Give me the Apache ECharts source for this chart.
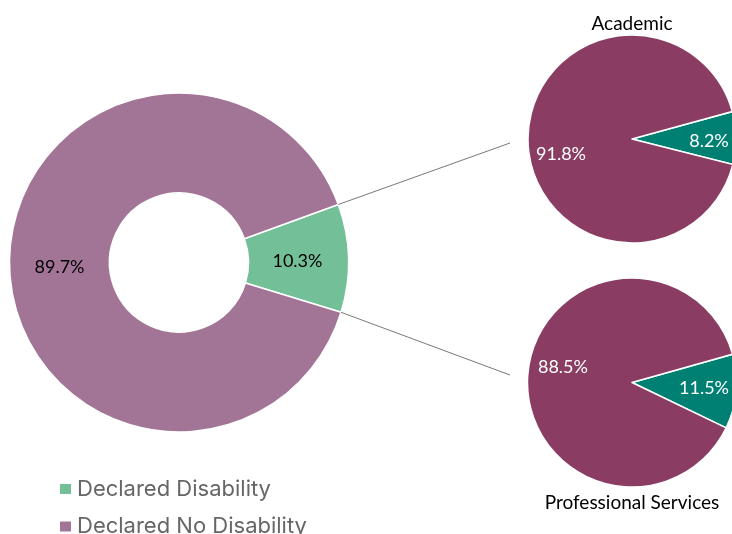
<!DOCTYPE html>
<html><head><meta charset="utf-8">
<script src="https://cdn.jsdelivr.net/npm/echarts@6/dist/echarts.min.js"></script>
<style>html,body{margin:0;padding:0;background:#fff}#c{width:732px;height:534px}</style>
</head><body><div id="c"></div>
<script>
var categories = ['Declared Disability', 'Declared No Disability'];
var overallValues = [10.3, 89.7];
var academicValues = [8.2, 91.8];
var profServValues = [11.5, 88.5];
var subTitles = ['Academic', 'Professional Services'];

var chart = echarts.init(document.getElementById('c'));
var font = 'Lato, Calibri, Carlito, sans-serif';
var donutC = [179, 262.5], donutR = 169.5;
var startMain = 20;
function pt(c, r, deg) { var a = deg * Math.PI / 180; return [c[0] + r * Math.cos(a), c[1] - r * Math.sin(a)]; }
var endMain = startMain - overallValues[0] / 100 * 360;
var p1 = pt(donutC, donutR, startMain), p2 = pt(donutC, donutR, endMain);

function mk(vals, colors, labelColors, offsets) {
  return vals.map(function (v, i) {
    return { name: categories[i], value: v,
      itemStyle: { color: colors[i] },
      label: { color: labelColors[i], offset: offsets[i] } };
  });
}
var commonLabel = { show: true, position: 'inside', fontFamily: font, fontSize: 18,
  formatter: function (p) { return p.value.toFixed(1) + '%'; } };
var legendText = { fontFamily: 'Inter, sans-serif', fontSize: 22, color: '#666', lineHeight: 24 };

chart.setOption({
  animation: false,
  color: ['#72BF98', '#A27597'],
  title: [
    { text: subTitles[0], left: 627, top: 9, textAlign: 'center',
      textStyle: { fontFamily: font, fontSize: 19, fontWeight: 'normal', color: '#000' } },
    { text: subTitles[1], left: 627, top: 488, textAlign: 'center',
      textStyle: { fontFamily: font, fontSize: 19, fontWeight: 'normal', color: '#000' } }
  ],
  legend: [
    { left: 58, top: 477, padding: 0, itemWidth: 13, itemHeight: 12, itemGap: 6, icon: 'rect',
      data: [categories[0]], textStyle: legendText, selectedMode: false },
    { left: 58, top: 514.5, padding: 0, itemWidth: 13, itemHeight: 12, itemGap: 6, icon: 'rect',
      data: [categories[1]], textStyle: legendText, selectedMode: false }
  ],
  series: [
    { type: 'pie', center: donutC, radius: [69.5, donutR], startAngle: startMain, clockwise: true,
      silent: true, labelLine: { show: false },
      itemStyle: { borderColor: '#fff', borderWidth: 1.5 },
      label: commonLabel,
      data: mk(overallValues, ['#72BF98', '#A27597'], ['#000', '#000'], [[-4, 2], [3, 2]]) },
    { type: 'pie', center: [632, 139], radius: [0, 104], startAngle: 15.3, clockwise: true,
      silent: true, labelLine: { show: false },
      itemStyle: { borderColor: '#fff', borderWidth: 1.5 },
      label: commonLabel,
      data: mk(academicValues, ['#008072', '#8A3C62'], ['#fff', '#fff'], [[22, 3], [-16, 15]]) },
    { type: 'pie', center: [632, 382.5], radius: [0, 104.5], startAngle: 15.7, clockwise: true,
      silent: true, labelLine: { show: false },
      itemStyle: { borderColor: '#fff', borderWidth: 1.5 },
      label: commonLabel,
      data: mk(profServValues, ['#008072', '#8A3C62'], ['#fff', '#fff'], [[17, 1], [-14, -10]]) }
  ],
  graphic: [
    { type: 'line', shape: { x1: p1[0], y1: p1[1], x2: 510, y2: 143 }, style: { stroke: '#555', lineWidth: 0.8 }, z: 10 },
    { type: 'line', shape: { x1: p2[0], y1: p2[1], x2: 510, y2: 375 }, style: { stroke: '#555', lineWidth: 0.8 }, z: 10 }
  ]
});
</script></body></html>
